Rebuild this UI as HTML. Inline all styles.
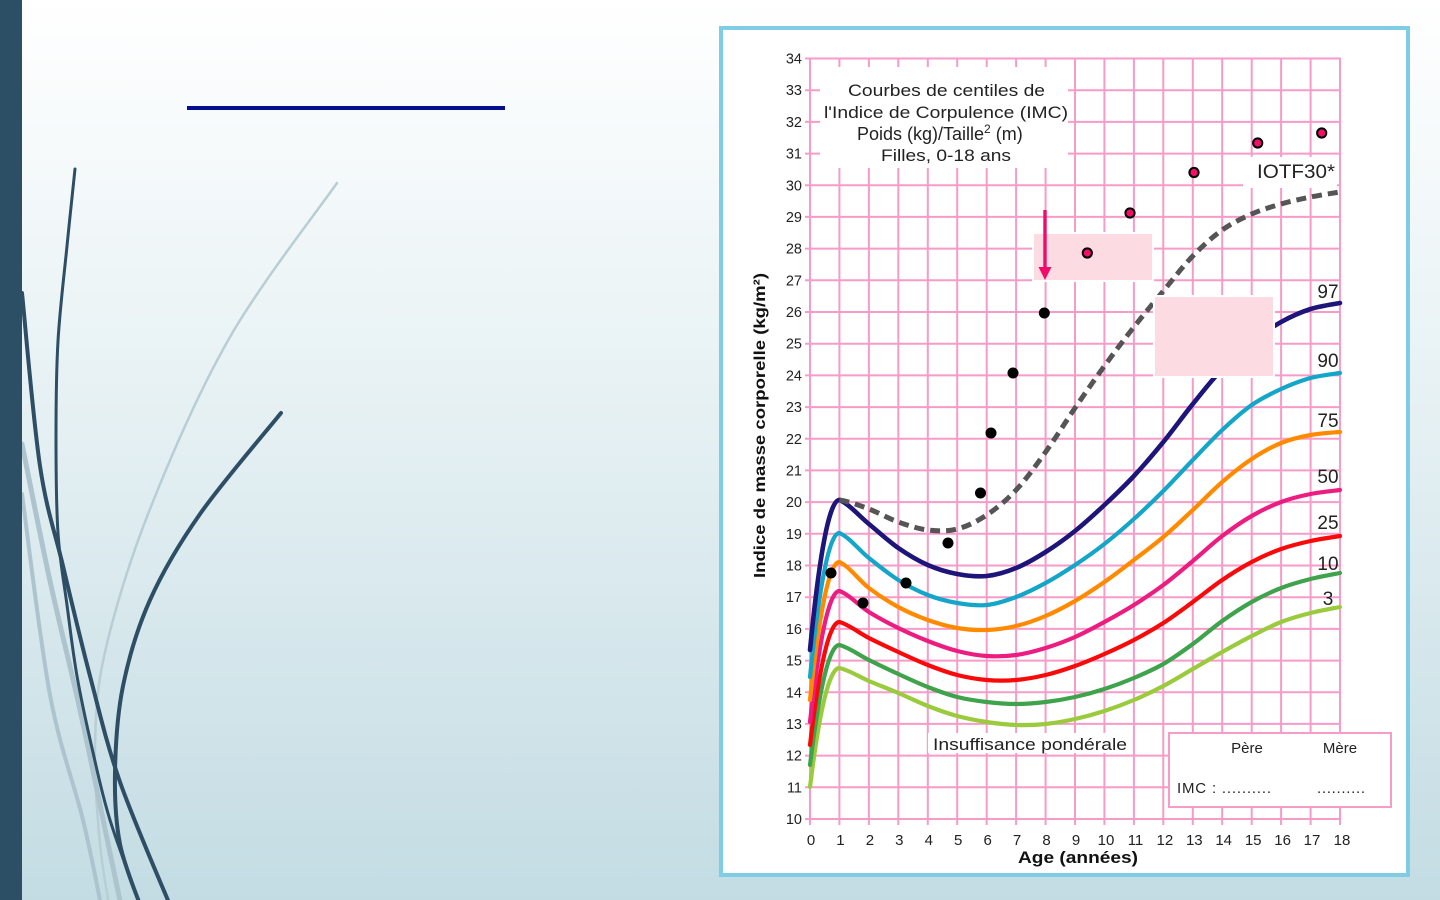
<!DOCTYPE html>
<html>
<head>
<meta charset="utf-8">
<style>
html,body{margin:0;padding:0;width:1440px;height:900px;overflow:hidden;background:#fff;}
svg{position:absolute;left:0;top:0;}
</style>
</head>
<body>
<svg width="1440" height="900" viewBox="0 0 1440 900" font-family="'Liberation Sans', Arial, sans-serif">
<defs>
<linearGradient id="bg" x1="0" y1="0" x2="0" y2="1">
<stop offset="0" stop-color="#ffffff"/>
<stop offset="0.5" stop-color="#e3eff2"/>
<stop offset="1" stop-color="#c3dce3"/>
</linearGradient>
</defs>
<rect width="1440" height="900" fill="url(#bg)"/>

<!-- decorative curves -->
<g fill="none" stroke-linecap="round">
<polyline class="s" points="337,183 230,337 150,509 105,652 95,748 100,844 110,910" stroke="#b9cdd5" stroke-width="2.5"/>
<polyline class="s" points="22,444 50,581 80,710 110,853 122,910" stroke="#adc4ce" stroke-width="5"/>
<polyline class="s" points="22,494 50,695 83,820 102,910" stroke="#adc4ce" stroke-width="4"/>
<polyline class="s" points="75,169 67,246 58,341 56,437 58,533 67,605 77,676 92,748 110,820 142,910" stroke="#2d4e65" stroke-width="3"/>
<polyline class="s" points="22,293 40,466 63,566 90,676 120,782 172,910" stroke="#2d4e65" stroke-width="4"/>
<polyline class="s" points="281,413 200,514 150,600 123,686 115,772 120,844 142,910" stroke="#2d4e65" stroke-width="4"/>
</g>

<rect x="0" y="0" width="22" height="900" fill="#2d4f66"/>
<rect x="187" y="106" width="318" height="4" fill="#020e8e"/>

<!-- chart frame -->
<rect x="721" y="28" width="687" height="847" fill="#ffffff" stroke="#7ecde5" stroke-width="4"/>

<!-- grid -->
<g stroke="#f79bc9" stroke-width="2">
<line x1="805" y1="819" x2="1341" y2="819"/>
<line x1="805" y1="787.3" x2="1341" y2="787.3"/>
<line x1="805" y1="755.6" x2="1341" y2="755.6"/>
<line x1="805" y1="723.9" x2="1341" y2="723.9"/>
<line x1="805" y1="692.3" x2="1341" y2="692.3"/>
<line x1="805" y1="660.6" x2="1341" y2="660.6"/>
<line x1="805" y1="628.9" x2="1341" y2="628.9"/>
<line x1="805" y1="597.2" x2="1341" y2="597.2"/>
<line x1="805" y1="565.5" x2="1341" y2="565.5"/>
<line x1="805" y1="533.8" x2="1341" y2="533.8"/>
<line x1="805" y1="502.1" x2="1341" y2="502.1"/>
<line x1="805" y1="470.4" x2="1341" y2="470.4"/>
<line x1="805" y1="438.8" x2="1341" y2="438.8"/>
<line x1="805" y1="407.1" x2="1341" y2="407.1"/>
<line x1="805" y1="375.4" x2="1341" y2="375.4"/>
<line x1="805" y1="343.7" x2="1341" y2="343.7"/>
<line x1="805" y1="312" x2="1341" y2="312"/>
<line x1="805" y1="280.3" x2="1341" y2="280.3"/>
<line x1="805" y1="248.6" x2="1341" y2="248.6"/>
<line x1="805" y1="216.9" x2="1341" y2="216.9"/>
<line x1="805" y1="185.3" x2="1341" y2="185.3"/>
<line x1="805" y1="153.6" x2="1341" y2="153.6"/>
<line x1="805" y1="121.9" x2="1341" y2="121.9"/>
<line x1="805" y1="90.2" x2="1341" y2="90.2"/>
<line x1="805" y1="58.5" x2="1341" y2="58.5"/>
<line x1="810" y1="57.5" x2="810" y2="825"/>
<line x1="839.4" y1="57.5" x2="839.4" y2="825"/>
<line x1="868.9" y1="57.5" x2="868.9" y2="825"/>
<line x1="898.3" y1="57.5" x2="898.3" y2="825"/>
<line x1="927.8" y1="57.5" x2="927.8" y2="825"/>
<line x1="957.2" y1="57.5" x2="957.2" y2="825"/>
<line x1="986.7" y1="57.5" x2="986.7" y2="825"/>
<line x1="1016.1" y1="57.5" x2="1016.1" y2="825"/>
<line x1="1045.6" y1="57.5" x2="1045.6" y2="825"/>
<line x1="1075" y1="57.5" x2="1075" y2="825"/>
<line x1="1104.4" y1="57.5" x2="1104.4" y2="825"/>
<line x1="1133.9" y1="57.5" x2="1133.9" y2="825"/>
<line x1="1163.3" y1="57.5" x2="1163.3" y2="825"/>
<line x1="1192.8" y1="57.5" x2="1192.8" y2="825"/>
<line x1="1222.2" y1="57.5" x2="1222.2" y2="825"/>
<line x1="1251.7" y1="57.5" x2="1251.7" y2="825"/>
<line x1="1281.1" y1="57.5" x2="1281.1" y2="825"/>
<line x1="1310.6" y1="57.5" x2="1310.6" y2="825"/>
<line x1="1340" y1="57.5" x2="1340" y2="825"/>
</g>

<!-- white label boxes over grid -->
<rect x="820" y="67" width="248" height="101" fill="#ffffff"/>
<rect x="1243" y="157" width="94" height="31" fill="#ffffff"/>
<rect x="928" y="733" width="204" height="20" fill="#ffffff"/>

<!-- curves -->
<g fill="none" stroke-width="4.2" stroke-linecap="round" stroke-linejoin="round">
<path d="M810,787 Q824.7,668 839.4,668" stroke="#9acb3c"/>
<path d="M810,765 Q824.7,645 839.4,645" stroke="#3ea34b"/>
<path d="M810,745 Q824.7,622 839.4,622" stroke="#f80a0a"/>
<path d="M810,722 Q824.7,591 839.4,591" stroke="#ec1c80"/>
<path d="M810,700 Q824.7,562 839.4,562" stroke="#ff8a00"/>
<path d="M810,677 Q824.7,533 839.4,533" stroke="#14a6c8"/>
<path d="M810,650 Q824.7,500 839.4,500" stroke="#1d157a" stroke-width="4.6"/>

<polyline class="s h" points="839.4,668 868.9,681 898.3,693 927.8,706 957.2,716 986.7,722 1016.1,725 1045.6,724 1075,719 1104.4,711 1133.9,700 1163.3,686 1192.8,669 1222.2,652 1251.7,636 1281.1,622 1310.6,613 1340,607" stroke="#9acb3c"/>
<polyline class="s h" points="839.4,645 868.9,660 898.3,674 927.8,687 957.2,697 986.7,702 1016.1,704 1045.6,702 1075,697 1104.4,689 1133.9,678 1163.3,664 1192.8,644 1222.2,621 1251.7,602 1281.1,588 1310.6,579 1340,573" stroke="#3ea34b"/>
<polyline class="s h" points="839.4,622 868.9,638 898.3,652 927.8,665 957.2,675 986.7,680 1016.1,680 1045.6,675 1075,666 1104.4,654 1133.9,640 1163.3,623 1192.8,602 1222.2,580 1251.7,562 1281.1,549 1310.6,541 1340,536" stroke="#f80a0a"/>
<polyline class="s h" points="839.4,591 868.9,612 898.3,628 927.8,641 957.2,651 986.7,656 1016.1,655 1045.6,648 1075,637 1104.4,622 1133.9,605 1163.3,585 1192.8,561 1222.2,536 1251.7,516 1281.1,502 1310.6,494 1340,490" stroke="#ec1c80"/>
<polyline class="s h" points="839.4,562 868.9,588 898.3,607 927.8,620 957.2,628 986.7,630 1016.1,626 1045.6,616 1075,601 1104.4,582 1133.9,560 1163.3,537 1192.8,510 1222.2,482 1251.7,459 1281.1,443 1310.6,435 1340,432" stroke="#ff8a00"/>
<polyline class="s h" points="839.4,533 868.9,558 898.3,580 927.8,595 957.2,603 986.7,605 1016.1,597 1045.6,583 1075,565 1104.4,544 1133.9,519 1163.3,491 1192.8,460 1222.2,430 1251.7,405 1281.1,389 1310.6,378 1340,373" stroke="#14a6c8"/>
<polyline class="s h" points="839.4,500 868.9,524 898.3,548 927.8,565 957.2,574 986.7,576 1016.1,568 1045.6,552 1075,531 1104.4,505 1133.9,476 1163.3,442 1192.8,404 1222.2,369 1251.7,342 1281.1,322 1310.6,309 1340,303" stroke="#1d157a" stroke-width="4.6"/>
<polyline class="s h" points="839.4,500 868.9,509 898.3,522 927.8,530 957.2,529 986.7,515 1016.1,490 1045.6,452 1075,408 1104.4,366 1133.9,327 1163.3,291 1192.8,256 1222.2,230 1251.7,214 1281.1,204 1310.6,197 1340,192" stroke="#555555" stroke-width="5" stroke-dasharray="10 6" stroke-linecap="butt"/>
</g>

<!-- pink boxes -->
<rect x="1033" y="233" width="120" height="48" fill="#fcdbe2" stroke="#ffffff" stroke-width="2"/>
<rect x="1154" y="296" width="120" height="81" fill="#fcdbe2" stroke="#ffffff" stroke-width="2"/>

<!-- data points -->
<g fill="#000">
<circle cx="831" cy="573" r="5.5"/>
<circle cx="863" cy="603" r="5.5"/>
<circle cx="906" cy="583" r="5.5"/>
<circle cx="948" cy="543" r="5.5"/>
<circle cx="980.5" cy="493" r="5.5"/>
<circle cx="991" cy="433" r="5.5"/>
<circle cx="1013" cy="373" r="5.5"/>
<circle cx="1044.3" cy="313" r="5.5"/>
</g>
<g fill="#f0106a" stroke="#000" stroke-width="2">
<circle cx="1087.3" cy="253" r="4.6"/>
<circle cx="1130" cy="213" r="4.6"/>
<circle cx="1194" cy="172.5" r="4.6"/>
<circle cx="1257.7" cy="143" r="4.6"/>
<circle cx="1321.7" cy="133" r="4.6"/>
</g>

<!-- arrow -->
<line x1="1045" y1="210" x2="1045" y2="269" stroke="#f00a6a" stroke-width="3.4"/>
<polygon points="1038.5,267 1051.5,267 1045,280" fill="#f00a6a"/>

<!-- y labels -->
<g font-size="14.5" fill="#222" text-anchor="end">
<text x="802" y="824">10</text>
<text x="802" y="792.3">11</text>
<text x="802" y="760.6">12</text>
<text x="802" y="728.9">13</text>
<text x="802" y="697.3">14</text>
<text x="802" y="665.6">15</text>
<text x="802" y="633.9">16</text>
<text x="802" y="602.2">17</text>
<text x="802" y="570.5">18</text>
<text x="802" y="538.8">19</text>
<text x="802" y="507.1">20</text>
<text x="802" y="475.4">21</text>
<text x="802" y="443.8">22</text>
<text x="802" y="412.1">23</text>
<text x="802" y="380.4">24</text>
<text x="802" y="348.7">25</text>
<text x="802" y="317">26</text>
<text x="802" y="285.3">27</text>
<text x="802" y="253.6">28</text>
<text x="802" y="221.9">29</text>
<text x="802" y="190.3">30</text>
<text x="802" y="158.6">31</text>
<text x="802" y="126.9">32</text>
<text x="802" y="95.2">33</text>
<text x="802" y="63.5">34</text>
</g>

<!-- x labels -->
<g font-size="15" fill="#222" text-anchor="middle">
<text x="811" y="845">0</text>
<text x="840.4" y="845">1</text>
<text x="869.9" y="845">2</text>
<text x="899.3" y="845">3</text>
<text x="928.8" y="845">4</text>
<text x="958.2" y="845">5</text>
<text x="987.7" y="845">6</text>
<text x="1017.1" y="845">7</text>
<text x="1046.6" y="845">8</text>
<text x="1076" y="845">9</text>
<text x="1106" y="845">10</text>
<text x="1135.5" y="845">11</text>
<text x="1164.9" y="845">12</text>
<text x="1194.3" y="845">13</text>
<text x="1223.7" y="845">14</text>
<text x="1253.2" y="845">15</text>
<text x="1282.6" y="845">16</text>
<text x="1312" y="845">17</text>
<text x="1342" y="845">18</text>
</g>

<text x="1078" y="863" font-size="17" font-weight="bold" fill="#111" text-anchor="middle" textLength="120" lengthAdjust="spacingAndGlyphs">Age (années)</text>
<text transform="translate(765,425.5) rotate(-90)" font-size="16" font-weight="bold" fill="#111" text-anchor="middle" textLength="305" lengthAdjust="spacingAndGlyphs">Indice de masse corporelle (kg/m²)</text>

<!-- title -->
<g font-size="17" fill="#222">
<text x="848" y="96" textLength="197" lengthAdjust="spacingAndGlyphs">Courbes de centiles de</text>
<text x="824" y="118" textLength="244" lengthAdjust="spacingAndGlyphs">l'Indice de Corpulence (IMC)</text>
<text x="857" y="140" font-size="18">Poids (kg)/Taille<tspan font-size="12" dy="-7">2</tspan><tspan dy="7"> (m)</tspan></text>
<text x="881" y="161" textLength="130" lengthAdjust="spacingAndGlyphs">Filles, 0-18 ans</text>
</g>

<text x="1257" y="178" font-size="19" fill="#222" textLength="78" lengthAdjust="spacingAndGlyphs">IOTF30*</text>
<text x="933" y="750" font-size="17" fill="#222" textLength="194" lengthAdjust="spacingAndGlyphs">Insuffisance pondérale</text>

<!-- percentile labels -->
<g font-size="19" fill="#222" text-anchor="middle">
<text x="1328" y="298">97</text>
<text x="1328" y="367">90</text>
<text x="1328" y="427">75</text>
<text x="1328" y="483">50</text>
<text x="1328" y="529">25</text>
<text x="1328" y="570">10</text>
<text x="1328" y="605">3</text>
</g>

<!-- legend box -->
<rect x="1169" y="733" width="222" height="74" fill="#ffffff" stroke="#f79bc9" stroke-width="2"/>
<g font-size="15" fill="#222">
<text x="1247" y="753" text-anchor="middle">Père</text>
<text x="1340" y="753" text-anchor="middle">Mère</text>
<text x="1177" y="793" textLength="94" lengthAdjust="spacing">IMC : ..........</text>
<text x="1317" y="793" textLength="48" lengthAdjust="spacing">..........</text>
</g>
</svg>

<script>
(function(){
var NS='http://www.w3.org/2000/svg';
var pls=document.querySelectorAll('polyline.s');
for(var k=0;k<pls.length;k++){
  var pl=pls[k];
  var nums=pl.getAttribute('points').trim().split(/[\s,]+/).map(Number);
  var P=[];for(var i=0;i<nums.length;i+=2)P.push([nums[i],nums[i+1]]);
  var h=pl.classList.contains('h');
  var d='M'+P[0][0]+','+P[0][1];
  for(var i=0;i<P.length-1;i++){
    var p0=i>0?P[i-1]:(h?[2*P[0][0]-P[1][0],P[0][1]]:P[0]);
    var p1=P[i],p2=P[i+1],p3=(i+2<P.length)?P[i+2]:P[i+1];
    var c1x=p1[0]+(p2[0]-p0[0])/6,c1y=p1[1]+(p2[1]-p0[1])/6;
    var c2x=p2[0]-(p3[0]-p1[0])/6,c2y=p2[1]-(p3[1]-p1[1])/6;
    d+=' C'+c1x.toFixed(2)+','+c1y.toFixed(2)+' '+c2x.toFixed(2)+','+c2y.toFixed(2)+' '+p2[0]+','+p2[1];
  }
  var path=document.createElementNS(NS,'path');
  for(var a=0;a<pl.attributes.length;a++){
    var at=pl.attributes[a];
    if(at.name!=='points'&&at.name!=='class')path.setAttribute(at.name,at.value);
  }
  path.setAttribute('d',d);
  pl.parentNode.replaceChild(path,pl);
}
})();
</script>
</body>
</html>
